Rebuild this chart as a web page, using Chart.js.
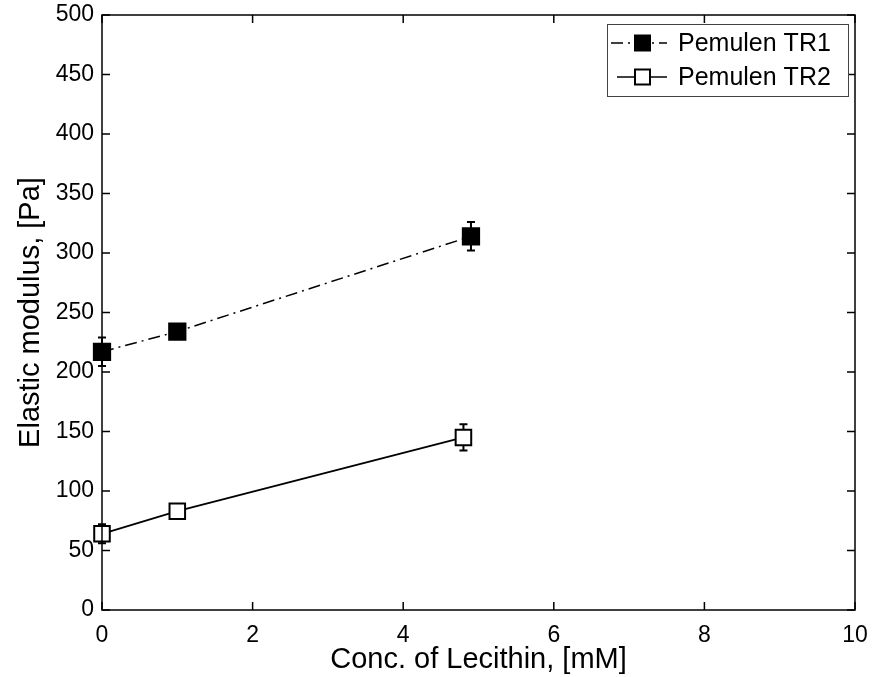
<!DOCTYPE html>
<html>
<head>
<meta charset="utf-8">
<script src="https://cdn.jsdelivr.net/npm/chart.js@4.4.0/dist/chart.umd.min.js"></script>
<style>
html, body { margin: 0; padding: 0; background: #fff; }
#wrap { width: 874px; height: 677px; }
</style>
</head>
<body>
<div id="wrap"><canvas id="modChart" width="874" height="677"></canvas></div>
<script>
const concTR1 = [0, 1, 4.9];
const modTR1 = [217, 234, 314];
const errTR1 = [12, 4, 12];
const concTR2 = [0, 1, 4.8];
const modTR2 = [64, 83, 145];
const errTR2 = [8, 4, 11];
const seriesNames = ["Pemulen TR1", "Pemulen TR2"];
const xTicks = [0, 2, 4, 6, 8, 10];
const yTicks = [0, 50, 100, 150, 200, 250, 300, 350, 400, 450, 500];

const FONT = '"Liberation Sans", Arial, Helvetica, sans-serif';
const DASH_DOT = [12, 5, 2, 5];

function toPoints(xs, ys) {
    return xs.map((x, i) => ({ x: x, y: ys[i] }));
}

// error bars, frame with inward ticks, boxed legend
const matlabLook = {
    id: 'matlabLook',
    beforeDatasetsDraw(chart) {
        const ctx = chart.ctx;
        const xs = chart.scales.x, ys = chart.scales.y;
        const errs = [errTR1, errTR2];
        ctx.save();
        ctx.strokeStyle = '#000';
        ctx.lineWidth = 2;
        chart.data.datasets.forEach((ds, di) => {
            ds.data.forEach((p, i) => {
                const px = xs.getPixelForValue(p.x);
                const top = ys.getPixelForValue(p.y + errs[di][i]);
                const bot = ys.getPixelForValue(p.y - errs[di][i]);
                ctx.beginPath();
                ctx.moveTo(px, top); ctx.lineTo(px, bot);
                ctx.moveTo(px - 4, top); ctx.lineTo(px + 4, top);
                ctx.moveTo(px - 4, bot); ctx.lineTo(px + 4, bot);
                ctx.stroke();
            });
        });
        ctx.restore();
    },
    afterDraw(chart) {
        const ctx = chart.ctx;
        const a = chart.chartArea;
        const xs = chart.scales.x, ys = chart.scales.y;
        ctx.save();
        ctx.strokeStyle = '#000';
        ctx.lineWidth = 1.5;
        ctx.strokeRect(a.left, a.top, a.right - a.left, a.bottom - a.top);
        ctx.beginPath();
        xTicks.forEach(v => {
            const px = xs.getPixelForValue(v);
            ctx.moveTo(px, a.bottom); ctx.lineTo(px, a.bottom - 8);
            ctx.moveTo(px, a.top); ctx.lineTo(px, a.top + 8);
        });
        yTicks.forEach(v => {
            const py = ys.getPixelForValue(v);
            ctx.moveTo(a.left, py); ctx.lineTo(a.left + 8, py);
            ctx.moveTo(a.right, py); ctx.lineTo(a.right - 8, py);
        });
        ctx.stroke();

        // legend
        const lx = 607, ly = 24, lw = 241, lh = 72;
        ctx.fillStyle = '#fff';
        ctx.fillRect(lx, ly, lw, lh);
        ctx.strokeStyle = '#444';
        ctx.lineWidth = 1;
        ctx.strokeRect(lx + 0.5, ly + 0.5, lw, lh);
        const rows = [43, 77];
        const fills = ['#000', '#fff'];
        const dashes = [DASH_DOT, []];
        rows.forEach((ry, i) => {
            ctx.strokeStyle = '#000';
            ctx.lineWidth = 1.5;
            ctx.setLineDash(dashes[i]);
            ctx.beginPath();
            ctx.moveTo(i === 0 ? 611 : 617, ry); ctx.lineTo(667, ry);
            ctx.stroke();
            ctx.setLineDash([]);
            ctx.fillStyle = fills[i];
            ctx.fillRect(635, ry - 7.5, 15, 15);
            ctx.lineWidth = 2;
            ctx.strokeRect(635, ry - 7.5, 15, 15);
            ctx.fillStyle = '#000';
            ctx.font = '25px ' + FONT;
            ctx.textBaseline = 'middle';
            ctx.textAlign = 'left';
            ctx.fillText(seriesNames[i], 678, ry + 1);
        });
        ctx.restore();
    }
};

let ModulusChart = function () {
    let _draw = function () {
        const ctx = document.getElementById('modChart').getContext('2d');
        new Chart(ctx, {
            type: 'scatter',
            data: {
                datasets: [
                    {
                        label: seriesNames[0],
                        data: toPoints(concTR1, modTR1),
                        showLine: true,
                        borderColor: '#000',
                        borderWidth: 1.5,
                        borderDash: DASH_DOT,
                        pointStyle: 'rect',
                        pointRadius: 11.5,
                        pointBackgroundColor: '#000',
                        pointBorderColor: '#000',
                        pointBorderWidth: 2,
                        clip: false
                    },
                    {
                        label: seriesNames[1],
                        data: toPoints(concTR2, modTR2),
                        showLine: true,
                        borderColor: '#000',
                        borderWidth: 1.8,
                        pointStyle: 'rect',
                        pointRadius: 11,
                        pointBackgroundColor: '#fff',
                        pointBorderColor: '#000',
                        pointBorderWidth: 2,
                        clip: false
                    }
                ]
            },
            options: {
                responsive: false,
                devicePixelRatio: 1,
                animation: false,
                layout: { padding: { top: 15, right: 19, left: 0, bottom: 0 } },
                plugins: { legend: { display: false }, tooltip: { enabled: false } },
                scales: {
                    x: {
                        type: 'linear',
                        min: 0, max: 10,
                        afterBuildTicks: s => { s.ticks = xTicks.map(v => ({ value: v })); },
                        afterFit: s => { s.height = 67; },
                        grid: { display: false },
                        border: { display: false },
                        ticks: { color: '#000', padding: 4, font: { family: FONT, size: 23 } },
                        title: {
                            display: true, text: 'Conc. of Lecithin, [mM]', color: '#000',
                            padding: { top: 0, bottom: 0 },
                            font: { family: FONT, size: 29 }
                        }
                    },
                    y: {
                        type: 'linear',
                        min: 0, max: 500,
                        afterBuildTicks: s => { s.ticks = yTicks.map(v => ({ value: v })); },
                        afterFit: s => { s.width = 102; },
                        grid: { display: false },
                        border: { display: false },
                        ticks: { color: '#000', padding: 0, font: { family: FONT, size: 23 } },
                        title: {
                            display: true, text: 'Elastic modulus, [Pa]', color: '#000',
                            padding: { top: 14, bottom: 0 },
                            font: { family: FONT, size: 29 }
                        }
                    }
                }
            },
            plugins: [matlabLook]
        });
    };
    return {
        init: () => { _draw(); }
    };
}();

document.addEventListener('DOMContentLoaded', function () {
    ModulusChart.init();
});
</script>
</body>
</html>
